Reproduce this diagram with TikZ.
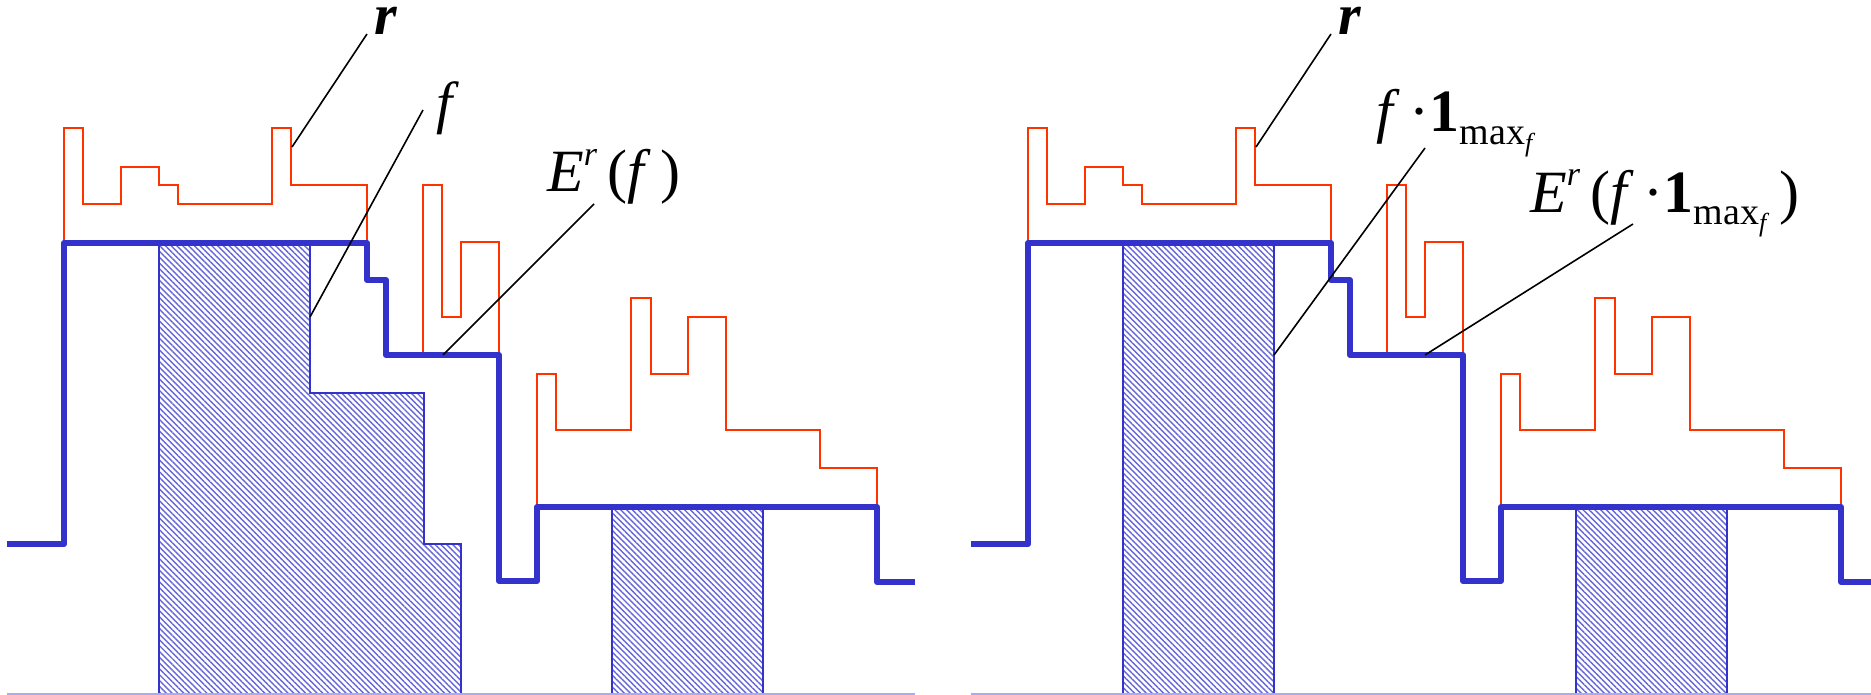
\documentclass[tikz,border=0pt]{standalone}
\usepackage{fontspec}
\setmainfont{Liberation Serif}
\usetikzlibrary{patterns.meta}
\definecolor{fblue}{HTML}{3333CC}
\definecolor{rred}{HTML}{FF3300}
\definecolor{axisc}{HTML}{AAAAEE}
\newcommand\supr{\raisebox{26pt}{\fontsize{34}{36}\selectfont\textit{r}}}
\newcommand\maxf{\raisebox{-13pt}{\fontsize{38}{40}\selectfont max\raisebox{-7pt}{\fontsize{26}{28}\selectfont\textit{f}}}}
\begin{document}
\begin{tikzpicture}[x=1pt,y=-1pt,
  redline/.style={draw=rred,line width=2pt},
  blueline/.style={draw=fblue,line width=6pt,line join=round},
  leader/.style={draw=black,line width=1.6pt},
  hatch/.style={draw=fblue,line width=1.5pt,pattern={Lines[angle=-45,distance=4.1pt,line width=1.4pt]},pattern color=fblue!75},
  axisline/.style={draw=axisc,line width=1.5pt},
  lbl/.style={inner sep=0pt,anchor=base west,font=\fontsize{60}{72}\selectfont}]
\useasboundingbox (0,0) rectangle (1871,695);
% hatched areas
\fill[hatch] (159,243) -- (310,243) -- (310,393) -- (424,393) -- (424,544) -- (461,544) -- (461,694) -- (159,694) -- cycle;
\fill[hatch] (612,507) rectangle (763,694);
\fill[hatch] (1123,243) rectangle (1274,694);
\fill[hatch] (1576,507) rectangle (1727,694);
\foreach \dx in {0,964}{
\begin{scope}[xshift=\dx]
\draw[axisline] (7,694) -- (915,694);
\draw[redline] (64,242) -- (64,128) -- (83,128) -- (83,204) -- (121,204) -- (121,167) -- (159,167) -- (159,185) -- (178,185) -- (178,204) -- (272,204) -- (272,128) -- (291,128) -- (291,185) -- (367,185) -- (367,242);
\draw[redline] (423,355) -- (423,185) -- (442,185) -- (442,317) -- (461,317) -- (461,242) -- (499,242) -- (499,355);
\draw[redline] (537,507) -- (537,374) -- (556,374) -- (556,430) -- (631,430) -- (631,298) -- (651,298) -- (651,374) -- (688,374) -- (688,317) -- (726,317) -- (726,430) -- (820,430) -- (820,468) -- (877,468) -- (877,507);
\draw[blueline] (7,544) -- (64,544) -- (64,243) -- (367,243) -- (367,280) -- (386,280) -- (386,355) -- (499,355) -- (499,581) -- (537,581) -- (537,507) -- (877,507) -- (877,582) -- (915,582);
\end{scope}}
% labels
\node[lbl,font=\fontsize{58}{60}\selectfont\bfseries\itshape] (rL) at (374,35) {r};
\node[lbl,font=\fontsize{58}{72}\selectfont] (fL) at (436,123) {\textit{f}};
\node[lbl] (EL) at (547,192) {\textit{E}\supr\,(\textit{f}\,)};
\node[lbl,font=\fontsize{58}{60}\selectfont\bfseries\itshape] (rR) at (1338,35) {r};
\node[lbl] (fR) at (1376,132) {\textit{f}\,·\textbf{1}\maxf};
\node[lbl] (ER) at (1530,212) {\textit{E}\supr\,(\textit{f}\,·\textbf{1}\maxf\,)};
% leader endpoints
\coordinate (rLa) at (292,147); \coordinate (rLb) at (367,34);
\coordinate (fLa) at (310,317); \coordinate (fLb) at (423,110);
\coordinate (ELa) at (443,355); \coordinate (ELb) at (594,204);
\coordinate (rRa) at (1256,147); \coordinate (rRb) at (1331,34);
\coordinate (fRa) at (1274,355); \coordinate (fRb) at (1425,148);
\coordinate (ERa) at (1425,355); \coordinate (ERb) at (1633,224);
\draw[leader] (rLa) -- (rLb);
\draw[leader] (fLa) -- (fLb);
\draw[leader] (ELa) -- (ELb);
\draw[leader] (rRa) -- (rRb);
\draw[leader] (fRa) -- (fRb);
\draw[leader] (ERa) -- (ERb);
\end{tikzpicture}
\end{document}
